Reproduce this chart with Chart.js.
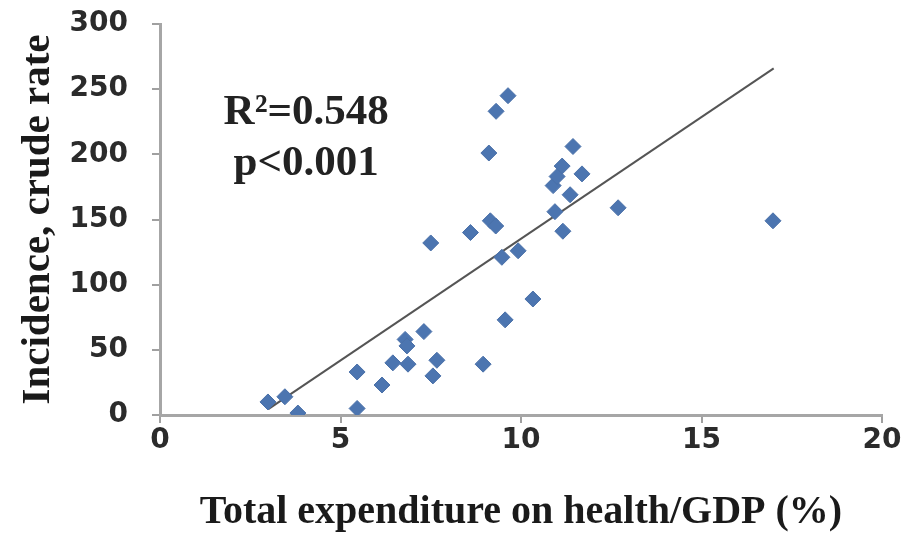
<!DOCTYPE html>
<html>
<head>
<meta charset="utf-8">
<script src="https://cdn.jsdelivr.net/npm/chart.js@4"></script>
<style>
  html, body { margin: 0; padding: 0; background: #ffffff; }
  #wrap { width: 908px; height: 545px; }
</style>
</head>
<body>
<div id="wrap"><canvas id="chart" width="908" height="545"></canvas></div>
<script>
// Health expenditure (% of GDP) against incidence, one point per country
const expenditure = [2.99, 3.46, 3.82, 5.46, 5.46, 6.15, 6.45, 6.79, 6.84, 6.87, 7.31, 7.56, 7.67, 7.5,
  8.6, 8.95, 9.15, 9.3, 9.11, 9.31, 9.64, 9.47, 9.56, 9.92, 10.33, 10.89, 10.94, 11.0, 11.14, 11.16,
  11.36, 11.44, 11.69, 12.69, 16.98]
const incidence = [10, 14, 1.5, 5, 33, 23, 40, 58, 53, 39, 64, 30, 42, 132,
  140, 39, 149, 145, 201, 233, 245, 121, 73, 126, 89, 176, 156, 183, 191, 141,
  169, 206, 185, 159, 149]

// Linear fit as drawn in the figure
const trendX = [3.0, 17.0]
const trendY = [4.5, 266]

const xTicks = [0, 5, 10, 15, 20]
const yTicks = [0, 50, 100, 150, 200, 250, 300]
const statLines = ['R²=0.548', 'p<0.001']

const tickFont = { family: 'DejaVu Sans', weight: 'bold', size: 28 }
const titleFont = { family: 'Liberation Serif', weight: 'bold', size: 40 }

// R² and p value, anchored in data space
const statsText = {
  id: 'statsText',
  afterDatasetsDraw(chart) {
    const { ctx, scales } = chart
    const cx = scales.x.getPixelForValue(4.05)
    const y0 = scales.y.getPixelForValue(232)
    ctx.save()
    ctx.fillStyle = '#222222'
    ctx.font = 'bold 43px "Liberation Serif"'
    ctx.textAlign = 'center'
    ctx.textBaseline = 'middle'
    statLines.forEach((t, i) => ctx.fillText(t, cx, y0 + i * 51))
    ctx.restore()
  }
}

new Chart(document.getElementById('chart'), {
  type: 'scatter',
  data: {
    datasets: [{
      data: expenditure.map((x, i) => ({ x, y: incidence[i] })),
      pointStyle: 'rectRot',
      pointRadius: 8,
      backgroundColor: '#4c75b0',
      borderColor: '#4a70a8',
      borderWidth: 1
    }, {
      data: trendX.map((x, i) => ({ x, y: trendY[i] })),
      showLine: true,
      pointRadius: 0,
      borderColor: '#555555',
      borderWidth: 2
    }]
  },
  plugins: [statsText],
  options: {
    responsive: false,
    animation: false,
    layout: { padding: { top: 24, right: 26, left: 0, bottom: 0 } },
    scales: {
      x: {
        type: 'linear',
        min: 0,
        max: 20,
        afterBuildTicks: (axis) => { axis.ticks = xTicks.map((value) => ({ value })) },
        afterFit: (axis) => { axis.height = 130 },
        grid: { drawOnChartArea: false, color: '#a0a0a0', lineWidth: 2, tickLength: 8 },
        border: { color: '#a6a6a6', width: 3 },
        ticks: { font: tickFont, color: '#2b2b2b', padding: 1 },
        title: { display: true, text: 'Total expenditure on health/GDP (%)', font: titleFont, color: '#1a1a1a', padding: { top: 4, bottom: 8 } }
      },
      y: {
        min: 0,
        max: 300,
        afterBuildTicks: (axis) => { axis.ticks = yTicks.map((value) => ({ value })) },
        afterFit: (axis) => {
          axis.width = 160
          // the top label may overhang into the padding, as in the figure
          axis.paddingTop = 0
          axis.paddingBottom = 0
        },
        grid: { drawOnChartArea: false, color: '#a0a0a0', lineWidth: 2, tickLength: 8 },
        border: { color: '#a6a6a6', width: 3 },
        ticks: { font: tickFont, color: '#2b2b2b', padding: 24 },
        title: { display: true, text: 'Incidence, crude rate', font: { family: 'Liberation Serif', weight: 'bold', size: 41 }, color: '#1a1a1a', padding: { top: 14, bottom: 0 } }
      }
    },
    plugins: {
      legend: { display: false },
      tooltip: { enabled: false }
    }
  }
})
</script>
</body>
</html>
